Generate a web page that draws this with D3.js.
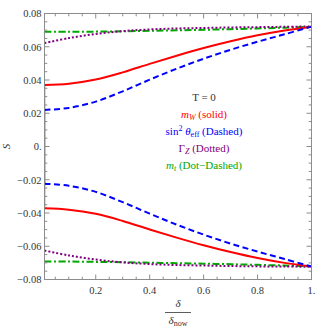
<!DOCTYPE html>
<html><head><meta charset="utf-8">
<script src="https://cdn.jsdelivr.net/npm/d3@7"></script>
<style>body{margin:0;background:#fff}svg{display:block}text{font-family:"Liberation Serif","DejaVu Serif",serif}</style>
</head><body>
<script>
// ---- data ----
const xs = [0.01, 0.1, 0.2, 0.3, 0.4, 0.5, 0.6, 0.7, 0.8, 0.9, 1.0];
const mWUpper    = [0.0370, 0.0378, 0.0403, 0.0446, 0.0497, 0.0546, 0.0592, 0.0633, 0.0669, 0.0698, 0.0721];
const mWLower    = [-0.0372, -0.0380, -0.0405, -0.0448, -0.0499, -0.0548, -0.0594, -0.0635, -0.0671, -0.0700, -0.0722];
const sinUpper   = [0.0220, 0.0232, 0.0270, 0.0332, 0.0402, 0.0468, 0.0528, 0.0582, 0.0630, 0.0675, 0.0721];
const sinLower   = [-0.0224, -0.0236, -0.0273, -0.0335, -0.0404, -0.0470, -0.0530, -0.0584, -0.0632, -0.0677, -0.0722];
const gzUpper    = [0.0622, 0.0652, 0.0677, 0.0694, 0.0704, 0.0710, 0.0713, 0.0716, 0.0718, 0.0720, 0.0722];
const gzLower    = [-0.0626, -0.0655, -0.0680, -0.0697, -0.0707, -0.0713, -0.0716, -0.0719, -0.0721, -0.0722, -0.0723];
const mtUpper    = [0.0690, 0.0690, 0.0691, 0.0693, 0.0696, 0.0699, 0.0702, 0.0706, 0.0710, 0.0715, 0.0720];
const mtLower    = [-0.0692, -0.0692, -0.0694, -0.0696, -0.0699, -0.0702, -0.0705, -0.0708, -0.0712, -0.0716, -0.0721];
const xTickVals  = [0.2, 0.4, 0.6, 0.8, 1.0];
const xTickLabels= ["0.2", "0.4", "0.6", "0.8", "1."];
const yTickVals  = [-0.08, -0.06, -0.04, -0.02, 0, 0.02, 0.04, 0.06, 0.08];
const yTickLabels= ["\u22120.08", "\u22120.06", "\u22120.04", "\u22120.02", "0.", "0.02", "0.04", "0.06", "0.08"];

const W = 316, H = 328;
const L = 44.5, R = 311.5, T = 13.5, B = 279.5;
const x = d3.scaleLinear().domain([0.01, 1]).range([L, R]);
const y = d3.scaleLinear().domain([-0.08, 0.08]).range([B, T]);

const svg = d3.select("body").append("svg").attr("width", W).attr("height", H);
svg.append("defs").append("clipPath").attr("id", "clip")
  .append("rect").attr("x", L).attr("y", T).attr("width", R - L).attr("height", B - T);

const plot = svg.append("g").attr("clip-path", "url(#clip)");
const line = d3.line().x(d => x(d[0])).y(d => y(d[1])).curve(d3.curveCatmullRom.alpha(0.5));

// faint vertical pieces at the left edge
plot.append("line").attr("x1", L).attr("x2", L).attr("y1", y(mWUpper[0])).attr("y2", y(mWLower[0]))
  .attr("stroke", "#ff0000").attr("stroke-width", 2).attr("stroke-opacity", 0.45);
plot.append("line").attr("x1", L - 0.3).attr("x2", L - 0.3).attr("y1", y(sinUpper[0])).attr("y2", y(sinLower[0]))
  .attr("stroke", "#0000ff").attr("stroke-width", 2).attr("stroke-opacity", 0.45);

const series = [
  {u: mtUpper,  l: mtLower,  color: "#00a800", dash: "7,2.5,2,2.5"},
  {u: gzUpper,  l: gzLower,  color: "#800080", dash: "2,2"},
  {u: mWUpper,  l: mWLower,  color: "#ff0000", dash: null},
  {u: sinUpper, l: sinLower, color: "#0000ff", dash: "6,3.5"},
];
series.forEach(s => {
  [s.u, s.l].forEach(arr => {
    plot.append("path").datum(xs.map((v, i) => [v, arr[i]]))
      .attr("d", line).attr("fill", "none").attr("stroke", s.color)
      .attr("stroke-width", 2).attr("stroke-dasharray", s.dash);
  });
});

// frame
const frameColor = "#8c8c8c";
svg.append("rect").attr("x", L).attr("y", T).attr("width", R - L).attr("height", B - T)
  .attr("fill", "none").attr("stroke", frameColor).attr("stroke-width", 1);

// ticks
const major = 5, minor = 2.8;
const xMinor = d3.range(0.05, 1.0001, 0.05).filter(v => !xTickVals.some(t => Math.abs(t - v) < 1e-6));
const yMinor = d3.range(-0.08, 0.08001, 0.005).filter(v => !yTickVals.some(t => Math.abs(t - v) < 1e-6));
const tg = svg.append("g").attr("stroke", frameColor).attr("stroke-width", 1);
function xt(v, len) {
  tg.append("line").attr("x1", x(v)).attr("x2", x(v)).attr("y1", B).attr("y2", B - len);
  tg.append("line").attr("x1", x(v)).attr("x2", x(v)).attr("y1", T).attr("y2", T + len);
}
function yt(v, len) {
  tg.append("line").attr("y1", y(v)).attr("y2", y(v)).attr("x1", L).attr("x2", L + len);
  tg.append("line").attr("y1", y(v)).attr("y2", y(v)).attr("x1", R).attr("x2", R - len);
}
xTickVals.forEach(v => xt(v, major));
xMinor.forEach(v => xt(v, minor));
yTickVals.forEach(v => yt(v, major));
yMinor.forEach(v => yt(v, minor));

// tick labels
const lab = svg.append("g").attr("fill", "#333").attr("font-size", "10.5px");
xTickVals.forEach((v, i) => lab.append("text").attr("x", x(v)).attr("y", B + 14)
  .attr("text-anchor", "middle").text(xTickLabels[i]));
yTickVals.forEach((v, i) => lab.append("text").attr("x", L - 3).attr("y", y(v) + 3.8)
  .attr("text-anchor", "end").text(yTickLabels[i]));

// axis labels
svg.append("text").attr("transform", `translate(10,${(T + B) / 2}) rotate(-90)`)
  .attr("text-anchor", "middle").attr("font-size", "11px").attr("font-style", "italic").attr("fill", "#333").text("S");
const xl = svg.append("g").attr("fill", "#333");
xl.append("text").attr("x", 178).attr("y", 307).attr("text-anchor", "middle").attr("font-size", "11px")
  .attr("font-style", "italic").text("δ");
xl.append("line").attr("x1", 165).attr("x2", 191).attr("y1", 312.5).attr("y2", 312.5).attr("stroke", "#333").attr("stroke-width", 0.8);
const dn = xl.append("text").attr("x", 178).attr("y", 324).attr("text-anchor", "middle").attr("font-size", "11px");
dn.append("tspan").attr("font-style", "italic").text("δ");
dn.append("tspan").attr("font-size", "8px").attr("dy", 2).text("now");

// annotation text
const cx = 204;
const ann = svg.append("g").attr("font-size", "11px").attr("text-anchor", "middle");
ann.append("text").attr("x", cx).attr("y", 100.5).attr("fill", "#333").text("T = 0");
const t1 = ann.append("text").attr("x", cx).attr("y", 117.5).attr("fill", "#ff0000");
t1.append("tspan").attr("font-style", "italic").text("m");
t1.append("tspan").attr("font-style", "italic").attr("font-size", "8px").attr("dy", 2).text("W");
t1.append("tspan").attr("dy", -2).text(" (solid)");
const t2 = ann.append("text").attr("x", cx).attr("y", 134.5).attr("fill", "#0000ff");
t2.append("tspan").text("sin");
t2.append("tspan").attr("font-size", "8px").attr("dy", -4).text("2");
t2.append("tspan").attr("dy", 4).attr("font-style", "italic").text(" θ");
t2.append("tspan").attr("font-size", "8px").attr("dy", 2).text("eff");
t2.append("tspan").attr("dy", -2).text(" (Dashed)");
const t3 = ann.append("text").attr("x", cx).attr("y", 151.5).attr("fill", "#800080");
t3.append("tspan").text("Γ");
t3.append("tspan").attr("font-style", "italic").attr("font-size", "8px").attr("dy", 2).text("Z");
t3.append("tspan").attr("dy", -2).text(" (Dotted)");
const t4 = ann.append("text").attr("x", cx).attr("y", 168.5).attr("fill", "#00a800");
t4.append("tspan").attr("font-style", "italic").text("m");
t4.append("tspan").attr("font-style", "italic").attr("font-size", "8px").attr("dy", 2).text("t");
t4.append("tspan").attr("dy", -2).text(" (Dot\u2212Dashed)");
</script>
</body></html>
